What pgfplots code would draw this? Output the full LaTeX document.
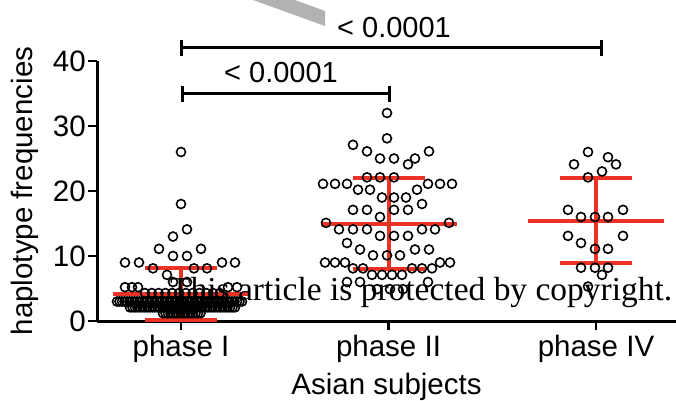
\documentclass[border=0pt]{standalone}
\usepackage{fontspec}
\setmainfont{Liberation Sans}
\newfontfamily\wmfont{Liberation Serif}
\usepackage{graphicx}
\usepackage{pgfplots}
\usepackage{pgfplotstable}
\pgfplotsset{compat=1.18}
\definecolor{gpred}{RGB}{236,50,36}
\definecolor{wmgray}{RGB}{178,178,178}

% x = pixel offset: phase I at 0, phase II at 207.5, phase IV at 415
\pgfplotstableread{
x y
0 26
0 18
6 14.1
-8 13
-22 11.1
20 11.1
-8 10
6 10
-56 9
-42 9
41 9
54 9
-28 8.1
13 8.1
26 8.1
-14 7.1
-8 6
6 6
-56 5.2
-49 5.2
-43 5.2
47 5.2
56 5.2
-36 4.3
-29.2 4.3
-22.4 4.3
-15.6 4.3
-8.8 4.3
-2 4.3
4.8 4.3
11.6 4.3
18.4 4.3
25.2 4.3
32 4.3
38.8 4.3
-64 3
-61.5 3
-59 3
-56.5 3
-54 3
-51.5 3
-49 3
-46.5 3
-44 3
-41.5 3
-39 3
-36.5 3
-34 3
-31.5 3
-29 3
-26.5 3
-24 3
-21.5 3
-19 3
-16.5 3
-14 3
-11.5 3
-9 3
-6.5 3
-4 3
-1.5 3
1 3
3.5 3
6 3
8.5 3
11 3
13.5 3
16 3
18.5 3
21 3
23.5 3
26 3
28.5 3
31 3
33.5 3
36 3
38.5 3
41 3
43.5 3
46 3
48.5 3
51 3
53.5 3
56 3
58.5 3
61 3
-51 2.1
-48.5 2.1
-46 2.1
-43.5 2.1
-41 2.1
-38.5 2.1
-36 2.1
-33.5 2.1
-31 2.1
-28.5 2.1
-26 2.1
-23.5 2.1
-21 2.1
-18.5 2.1
-16 2.1
-13.5 2.1
-11 2.1
-8.5 2.1
-6 2.1
-3.5 2.1
-1 2.1
1.5 2.1
4 2.1
6.5 2.1
9 2.1
11.5 2.1
14 2.1
16.5 2.1
19 2.1
21.5 2.1
24 2.1
26.5 2.1
29 2.1
31.5 2.1
34 2.1
36.5 2.1
39 2.1
41.5 2.1
44 2.1
46.5 2.1
49 2.1
51.5 2.1
54 2.1
-18 1.2
-15.5 1.2
-13 1.2
-10.5 1.2
-8 1.2
-5.5 1.2
-3 1.2
-0.5 1.2
2 1.2
4.5 1.2
7 1.2
9.5 1.2
12 1.2
14.5 1.2
17 1.2
19.5 1.2
}\phaseI

\pgfplotstableread{
x y
206 32
206 28.1
172 27.1
186 26.1
248 26.1
199 25
213 25
234 25
227 24.1
186 22.1
199 22.1
213 22.1
142 21.1
154 21.1
166 21.1
247 21.1
259 21.1
271 21.1
177 20.2
189 20.2
236 20.2
201 19
213 19
225 19
241 18
172 17.1
186 17.1
213 17.1
227 17.1
199 16
145 15.1
268 15.1
158 14.1
172 14.1
186 14.1
241 14.1
254 14.1
199 13.1
213 13.1
227 13.1
166 12
179 11
234 11
248 11
192 10.1
206 10.1
219 10.1
144 9
154 9
164 9
259 9
269 9
172 8.1
182 8.1
231 8.1
241 8.1
251 8.1
191 7.1
201 7.1
211 7.1
221 7.1
166 6
179 6
247 6
196 4.9
209 4.9
222 4.9
}\phaseII

\pgfplotstableread{
x y
407 26
427 25.2
393 24.1
435 24.1
421 23
407 22.1
387 17.1
442 17.1
400 16
414 16
427 16
387 13.1
442 13.1
400 12
414 11.1
427 11.1
400 8.2
414 8.2
427 8.2
421 7.1
407 5.3
}\phaseIV

\begin{document}
\begin{tikzpicture}[x=1pt,y=1pt]
\begin{axis}[
  at={(0,0)}, anchor=south west,
  scale only axis, width=579pt, height=260pt,
  xmin=-84, xmax=495, ymin=0, ymax=40,
  axis x line*=bottom, axis y line*=left,
  axis line style={line width=3pt, black},
  tick style={line width=2.6pt, black},
  tick align=outside, major tick length=9pt,
  xtick={0,207.5,415}, xticklabels={phase I,phase II,phase IV},
  ytick={0,10,20,30,40},
  /pgf/number format/assume math mode=true,
  tick label style={font=\fontsize{29.5}{31}\selectfont},
  yticklabel style={inner sep=2pt},
  xticklabel style={inner sep=2pt, yshift=-3pt},
  label style={font=\fontsize{29.5}{31}\selectfont},
  xlabel={Asian subjects}, ylabel={haplotype frequencies},
  xlabel style={inner sep=0pt, yshift=-8pt},
  ylabel style={inner sep=0pt, at={(axis description cs:-0.124,0.5)}, anchor=center},
  clip=false,
]
% mean and SD bars (drawn first, circles on top)
\addplot[gpred, line width=4pt] coordinates {(-68,4.2) (68,4.2)};
\addplot[gpred, line width=4pt] coordinates {(-36,8.1) (36,8.1)};
\addplot[gpred, line width=4pt] coordinates {(-36,0.2) (36,0.2)};
\addplot[gpred, line width=4pt] coordinates {(0,0.2) (0,8.1)};

\addplot[gpred, line width=4pt] coordinates {(139.5,15.0) (275.5,15.0)};
\addplot[gpred, line width=4pt] coordinates {(171.5,22.0) (243.5,22.0)};
\addplot[gpred, line width=4pt] coordinates {(171.5,8.0) (243.5,8.0)};
\addplot[gpred, line width=4pt] coordinates {(207.5,8.0) (207.5,22.0)};

\addplot[gpred, line width=4pt] coordinates {(347,15.4) (483,15.4)};
\addplot[gpred, line width=4pt] coordinates {(379,22.0) (451,22.0)};
\addplot[gpred, line width=4pt] coordinates {(379,8.9) (451,8.9)};
\addplot[gpred, line width=4pt] coordinates {(415,8.9) (415,22.0)};

% individual values
\addplot[only marks, mark=o, mark size=4.5pt, mark options={line width=1.6pt, black}] table[x=x,y=y] {\phaseI};
\addplot[only marks, mark=o, mark size=4.5pt, mark options={line width=1.6pt, black}] table[x=x,y=y] {\phaseII};
\addplot[only marks, mark=o, mark size=4.5pt, mark options={line width=1.6pt, black}] table[x=x,y=y] {\phaseIV};

% significance brackets
\addplot[black, line width=3pt] coordinates {(0,40.8) (0,43.3)};
\addplot[black, line width=3pt] coordinates {(0,42.05) (420,42.05)};
\addplot[black, line width=3pt] coordinates {(420,40.8) (420,43.3)};
\addplot[black, line width=3pt] coordinates {(1,33.7) (1,36.2)};
\addplot[black, line width=3pt] coordinates {(1,34.95) (208,34.95)};
\addplot[black, line width=3pt] coordinates {(208,33.7) (208,36.2)};
\end{axis}
% p-value labels
\node[anchor=base, inner sep=0pt, font=\fontsize{29}{30}\selectfont] at (297,284) {< 0.0001};
\node[anchor=base, inner sep=0pt, font=\fontsize{29}{30}\selectfont] at (184,239) {< 0.0001};
% grey watermark artefact at top
\fill[wmgray] (156,321) -- (198,321) -- (228,310) -- (228,295) -- cycle;
% watermark text
\node[anchor=base west, inner sep=0pt] at (73,21) {\resizebox{502pt}{!}{\wmfont This article is protected by copyright.}};
\pgfresetboundingbox
\path[use as bounding box] (-97,-79) rectangle (579,321);
\end{tikzpicture}
\end{document}
